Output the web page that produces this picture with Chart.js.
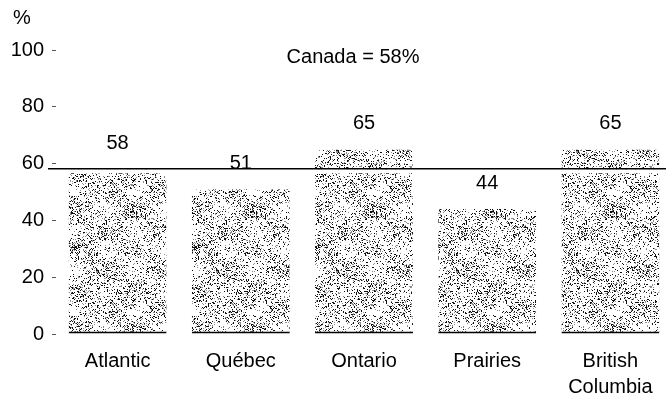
<!DOCTYPE html>
<html>
<head>
<meta charset="utf-8">
<script src="https://cdn.jsdelivr.net/npm/chart.js@4/dist/chart.umd.min.js"></script>
<style>
  html, body { margin: 0; padding: 0; background: #fff; overflow: hidden; }
  #wrap { width: 666px; height: 396px; overflow: hidden; position: relative; }
  #box { width: 672px; height: 396px; position: absolute; left: 0; top: 0; }
</style>
</head>
<body>
<div id="wrap"><div id="box"><canvas id="c"></canvas></div></div>
<script>
// ---- data ----
const categories = ["Atlantic", "Québec", "Ontario", "Prairies", ["British", "Columbia"]];
const values = [58, 51, 65, 44, 65];
const canadaValue = 58;
const canadaLabel = "Canada = 58%";
const yTicks = [0, 20, 40, 60, 80, 100];
const yUnit = "%";

// ---- stipple texture (styling only) ----
function makePattern() {
  const s = 120;
  const cv = document.createElement('canvas');
  cv.width = s; cv.height = s;
  const cx = cv.getContext('2d');
  const img = cx.createImageData(s, s);
  for (let y = 0; y < s; y++) {
    for (let x = 0; x < s; x++) {
      let h = Math.imul(x + 17, 374761393) ^ Math.imul(y + 31, 668265263);
      h = Math.imul(h ^ (h >>> 13), 1274126177);
      h = (h ^ (h >>> 16)) >>> 0;
      const r = (h % 1000) / 1000;
      const m = 0.5 + 0.5 * Math.sin(x * 2 * Math.PI / 60) * Math.sin(y * 2 * Math.PI / 40);
      const pb = 0.05 + 0.17 * m;
      const pg = pb + 0.04 + 0.10 * m;
      let v = 255;
      if (r < pb) v = 15;
      else if (r < pg) v = 140;
      const i = (y * s + x) * 4;
      img.data[i] = v; img.data[i + 1] = v; img.data[i + 2] = v; img.data[i + 3] = 255;
    }
  }
  cx.putImageData(img, 0, 0);
  return cx.createPattern(cv, 'repeat');
}

const FONT = "'Liberation Sans', Arial, sans-serif";

const overlay = {
  id: 'overlay',
  afterDatasetsDraw(chart) {
    const ctx = chart.ctx;
    const ys = chart.scales.y;
    const area = chart.chartArea;
    const yl = ys.getPixelForValue(canadaValue);
    ctx.save();
    ctx.fillStyle = '#fff';
    ctx.fillRect(area.left - 8, yl, area.right - area.left + 8, 4);
    ctx.strokeStyle = '#000';
    ctx.lineWidth = 1.5;
    ctx.beginPath();
    ctx.moveTo(area.left - 8, yl - 0.5);
    ctx.lineTo(area.right, yl - 0.5);
    ctx.stroke();
    ctx.fillStyle = '#000';
    ctx.font = '20px ' + FONT;
    ctx.textAlign = 'center';
    ctx.textBaseline = 'middle';
    const meta = chart.getDatasetMeta(0);
    meta.data.forEach((bar, i) => {
      ctx.fillText(String(values[i]), bar.x, bar.y - 26);
    });
    ctx.fillText(canadaLabel, 353, 57);
    ctx.fillText(yUnit, 22, 18);
    ctx.restore();
  }
};

new Chart(document.getElementById('c'), {
  type: 'bar',
  data: {
    labels: categories,
    datasets: [{
      data: values,
      backgroundColor: makePattern(),
      borderColor: '#000',
      borderWidth: { top: 0, left: 0, right: 0, bottom: 2 },
      borderSkipped: false,
      categoryPercentage: 1,
      barPercentage: 0.795
    }]
  },
  options: {
    responsive: true,
    maintainAspectRatio: false,
    animation: false,
    devicePixelRatio: 1,
    layout: { padding: { top: 50, left: 0, right: 0, bottom: 0 } },
    plugins: { legend: { display: false }, tooltip: { enabled: false } },
    scales: {
      x: {
        grid: { display: false },
        border: { display: false },
        ticks: { color: '#000', font: { family: FONT, size: 20, lineHeight: 1.3 }, padding: 6, maxRotation: 0 },
        afterFit(s) { s.height = 62; }
      },
      y: {
        min: 0, max: 100,
        afterBuildTicks(s) { s.ticks = yTicks.map(v => ({ value: v })); },
        grid: { drawOnChartArea: false, tickLength: 4, color: '#555', lineWidth: 1 },
        border: { display: false },
        ticks: { color: '#000', font: { family: FONT, size: 20 }, padding: 8 },
        afterFit(s) { s.width = 56; }
      }
    }
  },
  plugins: [overlay]
});
</script>
</body>
</html>
